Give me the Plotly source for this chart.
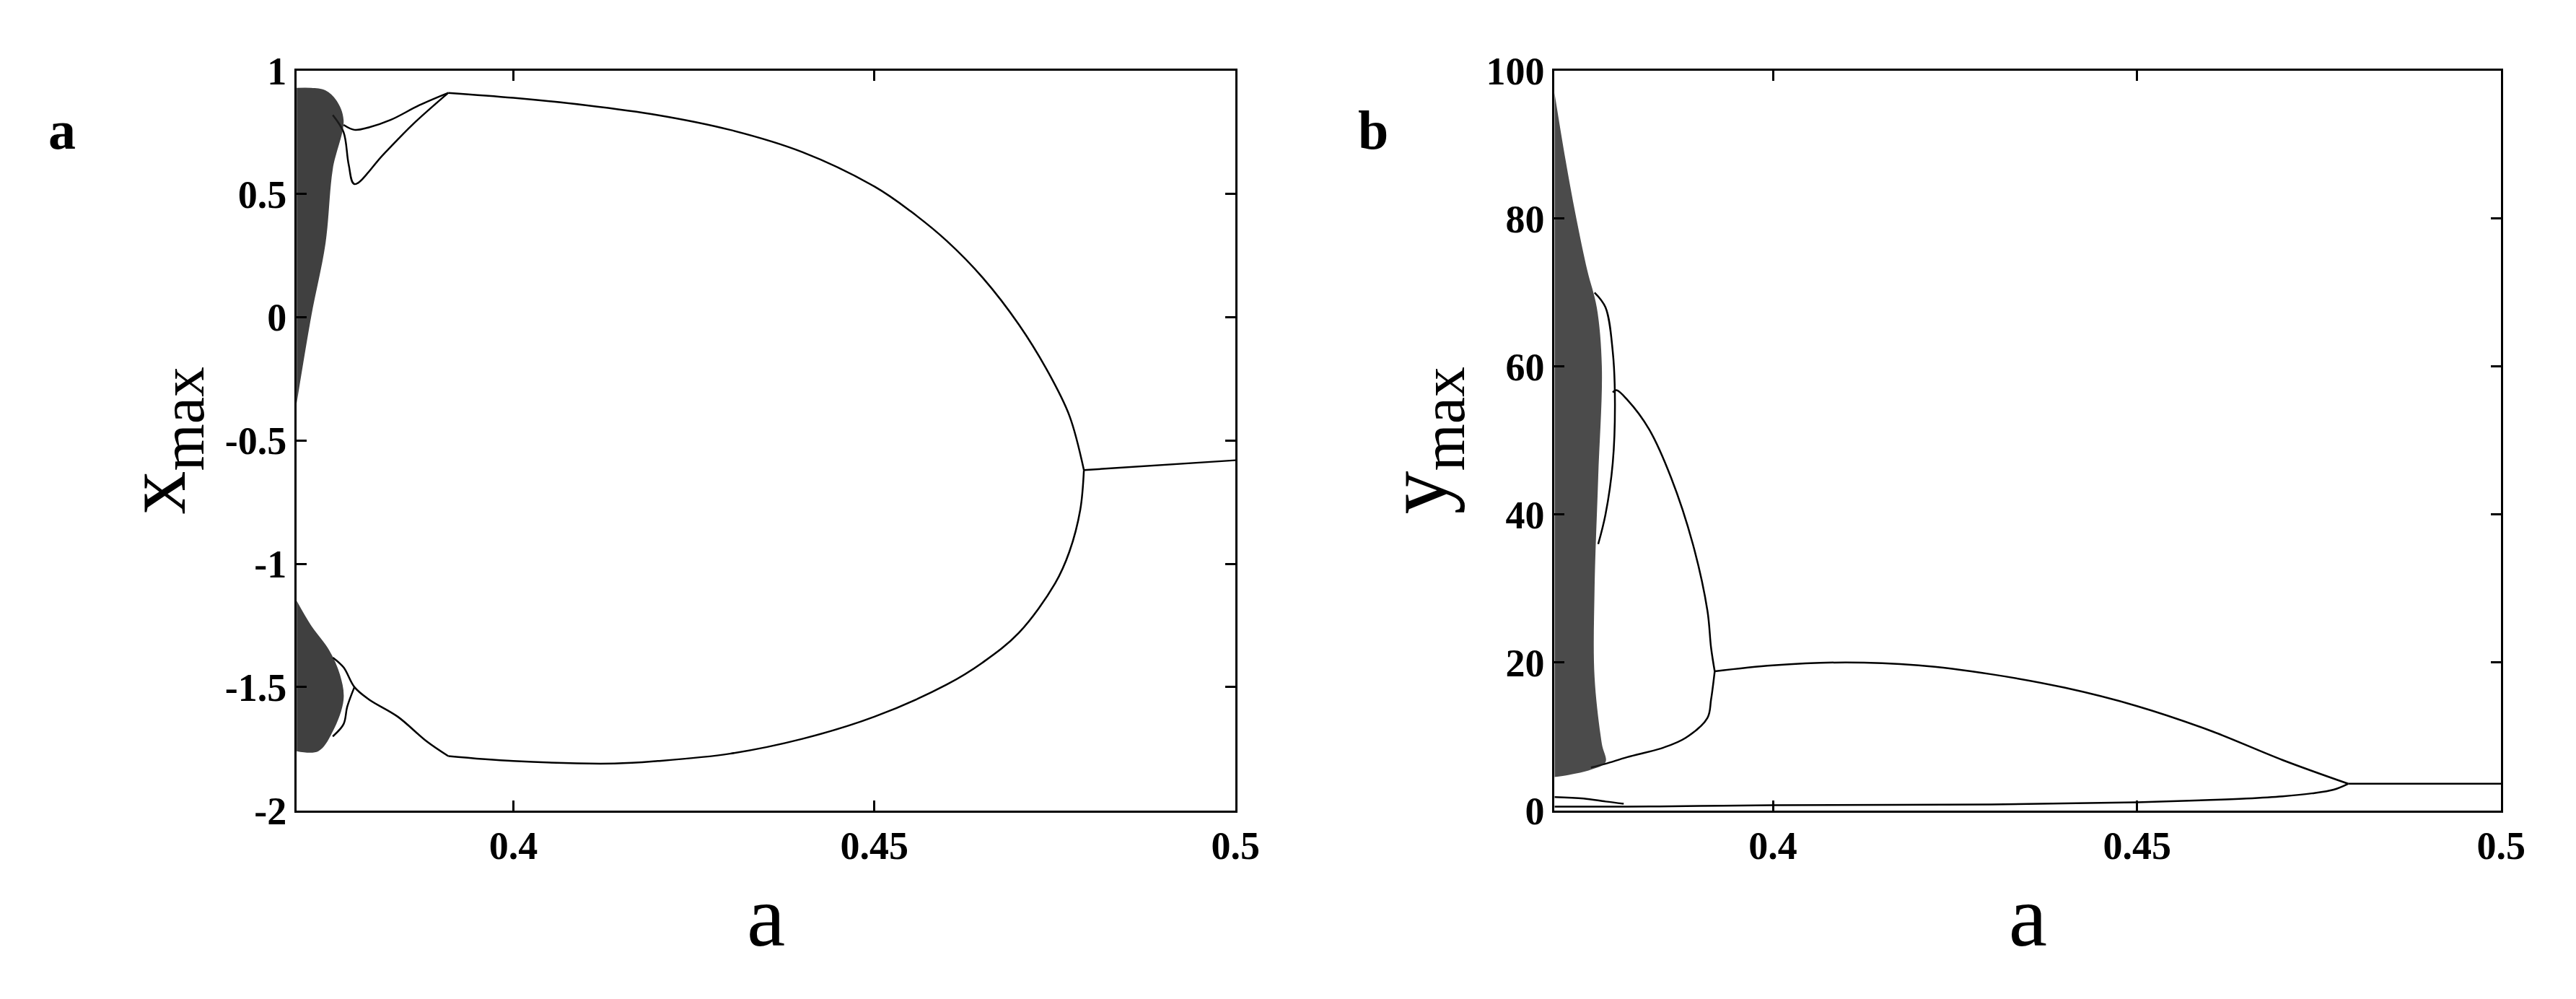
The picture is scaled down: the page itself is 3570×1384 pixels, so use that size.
import plotly.graph_objects as go

# ---- panel a: x_max vs a ----
a_up = [0.391, 0.40, 0.41, 0.42, 0.43, 0.44, 0.45, 0.455, 0.46, 0.465, 0.47, 0.474, 0.477, 0.479]
x_up = [0.91, 0.89, 0.86, 0.82, 0.76, 0.67, 0.53, 0.43, 0.31, 0.16, -0.03, -0.22, -0.40, -0.62]
a_lo = [0.479, 0.4785, 0.477, 0.475, 0.47, 0.465, 0.46, 0.45, 0.44, 0.43, 0.42, 0.414, 0.40, 0.391]
x_lo = [-0.62, -0.78, -0.95, -1.08, -1.28, -1.40, -1.49, -1.62, -1.71, -1.77, -1.80, -1.81, -1.80, -1.78]
a_tail = [0.479, 0.5]
x_tail = [-0.62, -0.58]
a_up2 = [0.391, 0.387, 0.383, 0.380, 0.378, 0.3765]
x_up2 = [0.91, 0.86, 0.80, 0.77, 0.76, 0.78]
a_up3 = [0.391, 0.386, 0.382, 0.378, 0.3772, 0.3765, 0.375]
x_up3 = [0.91, 0.78, 0.66, 0.54, 0.62, 0.75, 0.82]
a_lo2 = [0.391, 0.388, 0.384, 0.380, 0.378, 0.3765, 0.375]
x_lo2 = [-1.78, -1.72, -1.62, -1.55, -1.50, -1.42, -1.38]
a_lo3 = [0.378, 0.377, 0.3765, 0.375]
x_lo3 = [-1.50, -1.58, -1.65, -1.70]
# chaotic bands (envelopes)
band_a_top = [0.370, 0.372, 0.374, 0.3755, 0.3765, 0.375, 0.374, 0.372, 0.370]
band_x_top = [0.93, 0.93, 0.92, 0.88, 0.80, 0.60, 0.30, 0.00, -0.35]
band_a_bot = [0.370, 0.372, 0.3745, 0.376, 0.3765, 0.375, 0.373, 0.370]
band_x_bot = [-1.15, -1.25, -1.35, -1.45, -1.55, -1.68, -1.76, -1.76]

# ---- panel b: y_max vs a ----
b_top = [0.392, 0.40, 0.41, 0.42, 0.43, 0.44, 0.45, 0.46, 0.47, 0.479]
y_top = [18.8, 19.6, 20.0, 19.6, 18.4, 16.6, 14.1, 10.8, 6.8, 3.6]
b_bot = [0.479, 0.477, 0.474, 0.47, 0.465, 0.46, 0.45, 0.43, 0.40, 0.39, 0.38, 0.37]
y_bot = [3.6, 2.8, 2.3, 1.9, 1.6, 1.4, 1.1, 0.8, 0.7, 0.6, 0.5, 0.5]
b_tail = [0.479, 0.5]
y_tail = [3.6, 3.6]
b_loop_up = [0.392, 0.3915, 0.391, 0.389, 0.386, 0.383, 0.380, 0.3785, 0.378]
y_loop_up = [18.8, 22.0, 27.0, 36.0, 45.0, 51.5, 55.5, 56.8, 56.5]
b_loop_lo = [0.392, 0.3915, 0.391, 0.388, 0.385, 0.380, 0.377, 0.375]
y_loop_lo = [18.8, 15.0, 12.5, 9.8, 8.5, 7.2, 6.3, 5.8]
b_loop2 = [0.3755, 0.3770, 0.3780, 0.3783, 0.3780, 0.3770, 0.3760]
y_loop2 = [70.0, 68.0, 62.0, 55.0, 47.0, 40.0, 36.0]
b_small = [0.370, 0.374, 0.377, 0.3795]
y_small = [1.8, 1.6, 1.2, 0.9]
band_b = [0.370, 0.3715, 0.373, 0.3745, 0.3758, 0.3765, 0.376, 0.3755, 0.3755, 0.3765, 0.377, 0.375, 0.372, 0.370]
band_y = [97.0, 88.0, 80.0, 73.0, 68.0, 60.0, 45.0, 30.0, 18.0, 9.0, 6.5, 5.5, 4.8, 4.5]

fig = go.Figure()

line_style = dict(color="black", width=2.5)
for xs, ys in [(a_up, x_up), (a_lo, x_lo), (a_tail, x_tail), (a_up2, x_up2),
               (a_up3, x_up3), (a_lo2, x_lo2), (a_lo3, x_lo3)]:
    fig.add_trace(go.Scatter(x=xs, y=ys, mode="lines", line=line_style,
                             line_shape="spline", xaxis="x", yaxis="y"))
for xs, ys in [(band_a_top, band_x_top), (band_a_bot, band_x_bot)]:
    fig.add_trace(go.Scatter(x=xs, y=ys, mode="lines", fill="toself",
                             fillcolor="rgba(30,30,30,0.85)", line=dict(width=0),
                             line_shape="spline", xaxis="x", yaxis="y"))

for xs, ys in [(b_top, y_top), (b_bot, y_bot), (b_tail, y_tail), (b_loop_up, y_loop_up),
               (b_loop_lo, y_loop_lo), (b_loop2, y_loop2), (b_small, y_small)]:
    fig.add_trace(go.Scatter(x=xs, y=ys, mode="lines", line=line_style,
                             line_shape="spline", xaxis="x2", yaxis="y2"))
fig.add_trace(go.Scatter(x=band_b, y=band_y, mode="lines", fill="toself",
                         fillcolor="rgba(30,30,30,0.8)", line=dict(width=0),
                         line_shape="spline", xaxis="x2", yaxis="y2"))

tick_font = dict(family="Liberation Serif", size=54, color="black")
title_font = dict(family="Liberation Serif", size=120, color="black")
ax_common = dict(showline=True, linecolor="black", linewidth=3, mirror="ticks",
                 ticks="inside", ticklen=14, tickwidth=2.5, tickcolor="black",
                 showgrid=False, zeroline=False, tickfont=tick_font)

fig.update_layout(
    width=3570, height=1384, showlegend=False,
    paper_bgcolor="white", plot_bgcolor="white",
    margin=dict(l=0, r=0, t=0, b=0),
    xaxis=dict(domain=[0.114, 0.482], range=[0.37, 0.5], anchor="y",
               tickvals=[0.4, 0.45, 0.5], ticktext=["<b>0.4</b>", "<b>0.45</b>", "<b>0.5</b>"],
               title=dict(text="a", font=title_font, standoff=25), **ax_common),
    yaxis=dict(domain=[0.18, 0.954], range=[-2, 1], anchor="x",
               tickvals=[-2, -1.5, -1, -0.5, 0, 0.5, 1],
               ticktext=["<b>%s</b>" % t for t in ["-2", "-1.5", "-1", "-0.5", "0", "0.5", "1"]],
               title=dict(text="x<sub>max</sub>", font=title_font, standoff=15), **ax_common),
    xaxis2=dict(domain=[0.607, 0.978], range=[0.37, 0.5], anchor="y2",
                tickvals=[0.4, 0.45, 0.5], ticktext=["<b>0.4</b>", "<b>0.45</b>", "<b>0.5</b>"],
                title=dict(text="a", font=title_font, standoff=25), **ax_common),
    yaxis2=dict(domain=[0.18, 0.954], range=[0, 100], anchor="x2",
                tickvals=[0, 20, 40, 60, 80, 100],
                ticktext=["<b>%d</b>" % t for t in [0, 20, 40, 60, 80, 100]],
                title=dict(text="y<sub>max</sub>", font=title_font, standoff=15), **ax_common),
)

fig.add_annotation(text="<b>a</b>", x=0.016, y=0.925, xref="paper", yref="paper",
                   showarrow=False, font=dict(family="Liberation Serif", size=76, color="black"))
fig.add_annotation(text="<b>b</b>", x=0.536, y=0.925, xref="paper", yref="paper",
                   showarrow=False, font=dict(family="Liberation Serif", size=76, color="black"))

fig.write_html("out.html")
